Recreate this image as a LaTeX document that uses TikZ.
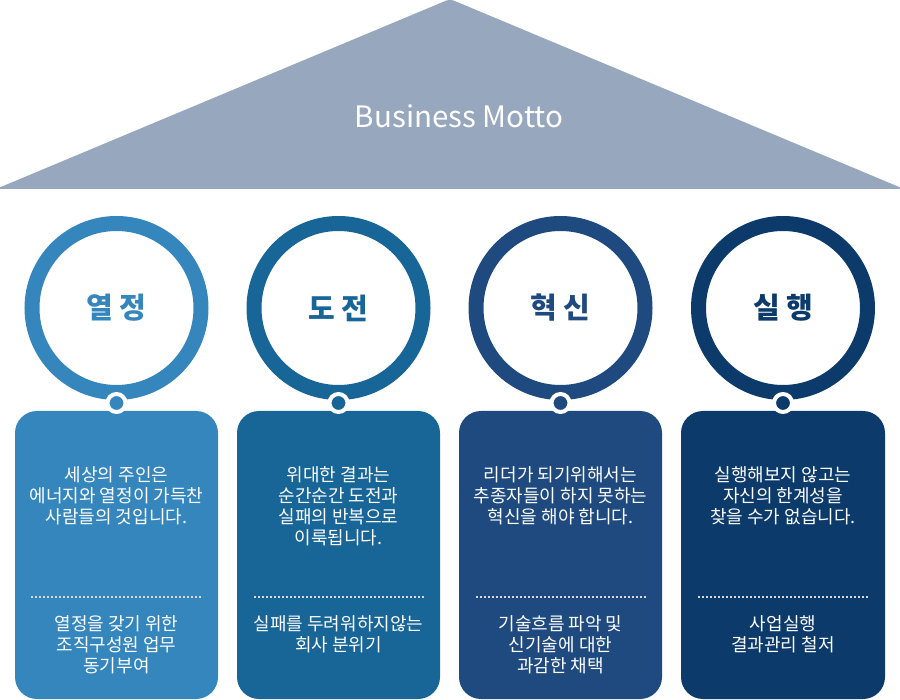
\documentclass[tikz,border=0pt]{standalone}
\usepackage{fontspec}
\setmainfont{Noto Sans CJK KR}
\definecolor{roof}{HTML}{97A7BE}
\definecolor{cA}{HTML}{3686BE}
\definecolor{cB}{HTML}{186598}
\definecolor{cC}{HTML}{1F4A7F}
\definecolor{cD}{HTML}{0B3A6B}
\tikzset{
  ring/.style={circle, draw=#1, line width=15pt, minimum size=169pt, inner sep=0pt,
    text=#1, font=\fontsize{29}{31}\selectfont\bfseries},
  knob/.style={circle, fill=#1, draw=white, line width=4pt, minimum size=18pt, inner sep=0pt},
  card/.style={fill=#1, rounded corners=22pt},
  body/.style={text=white, align=center, anchor=north, inner sep=0pt,
    font=\fontsize{18}{21}\selectfont},
  sep/.style={draw=white!85!black, line width=1.5pt, dash pattern=on 2pt off 2pt}
}
\begin{document}
\begin{tikzpicture}[x=1pt,y=-1pt]
\useasboundingbox (0,0) rectangle (900,700);
% roof
\fill[roof, rounded corners=4pt] (-4,189) -- (450,-1) -- (904,189) -- cycle;
\node[text=white, font=\fontsize{29.5}{31}\selectfont] (motto) at (459,116) {Business Motto};
% column 1
\fill[card=cA] (15,411) rectangle (218,699);
\node[ring=cA] (r1) at (116.5,308) {열 정};
\node[knob=cA] (k1) at (116.5,403) {};
\node[body] (t1) at (116.5,466) {세상의 주인은\\에너지와 열정이 가득찬\\사람들의 것입니다.};
\draw[sep] (31,597) -- (201,597);
\node[body] (b1) at (116.5,615) {열정을 갖기 위한\\조직구성원 업무\\동기부여};
% column 2
\fill[card=cB] (237,411) rectangle (440,699);
\node[ring=cB] (r2) at (338.5,308) {도 전};
\node[knob=cB] (k2) at (338.5,403) {};
\node[body] (t2) at (338.5,466) {위대한 결과는\\순간순간 도전과\\실패의 반복으로\\이룩됩니다.};
\draw[sep] (254,597) -- (424,597);
\node[body] (b2) at (338.5,615) {실패를 두려워하지않는\\회사 분위기};
% column 3
\fill[card=cC] (459,411) rectangle (662,699);
\node[ring=cC] (r3) at (560.5,308) {혁 신};
\node[knob=cC] (k3) at (560.5,403) {};
\node[body] (t3) at (560.5,466) {리더가 되기위해서는\\추종자들이 하지 못하는\\혁신을 해야 합니다.};
\draw[sep] (476,597) -- (646,597);
\node[body] (b3) at (560.5,615) {기술흐름 파악 및\\신기술에 대한\\과감한 채택};
% column 4
\fill[card=cD] (681,411) rectangle (885,699);
\node[ring=cD] (r4) at (783,308) {실 행};
\node[knob=cD] (k4) at (783,403) {};
\node[body] (t4) at (783,466) {실행해보지 않고는\\자신의 한계성을\\찾을 수가 없습니다.};
\draw[sep] (698,597) -- (868,597);
\node[body] (b4) at (783,615) {사업실행\\결과관리 철저};
\end{tikzpicture}
\end{document}
